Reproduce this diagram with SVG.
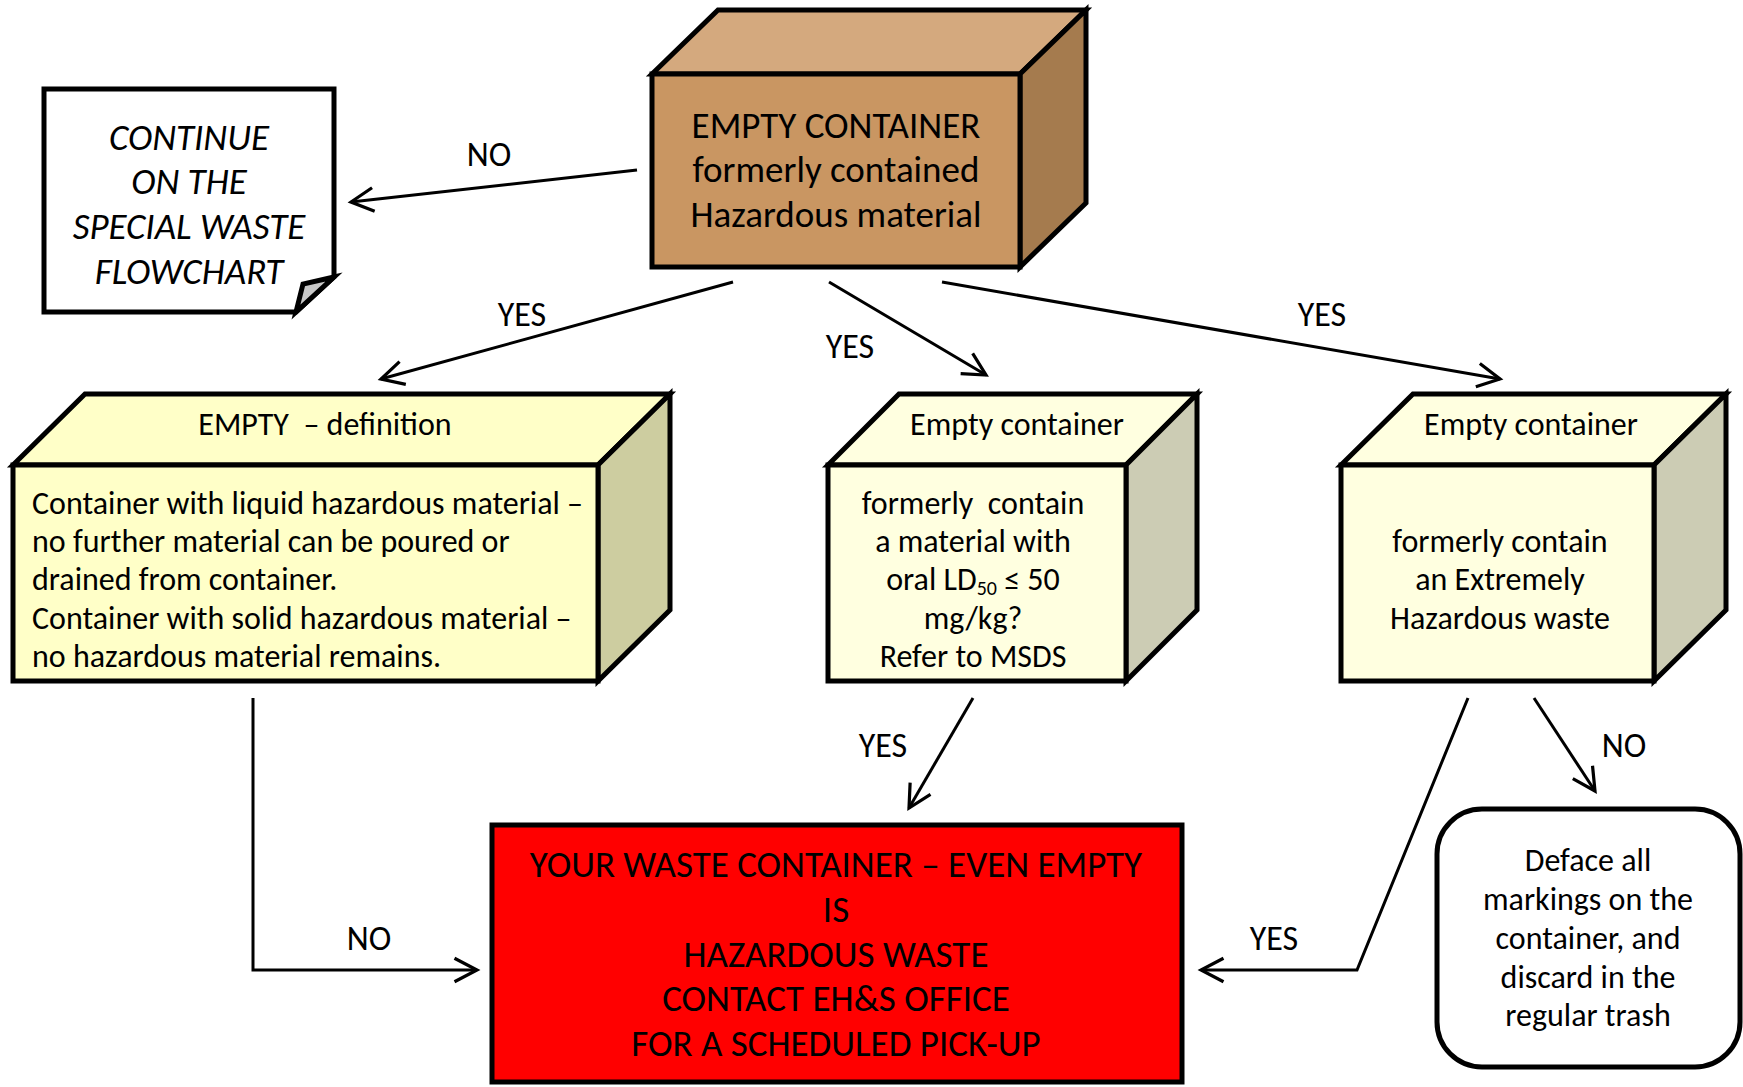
<svg xmlns="http://www.w3.org/2000/svg" width="1743" height="1087" viewBox="0 0 1743 1087">
<defs>
<style>
text{font-family:Carlito,Lato,"Liberation Sans",sans-serif;fill:#000}
.big{font-size:37px;text-anchor:middle}
.mid{font-size:32px;text-anchor:middle}
.body{font-size:32px}
.lbl{font-size:34px;text-anchor:middle}
.it{font-style:italic}
.box{stroke:#000;stroke-width:5;stroke-linejoin:miter}
.con{fill:none;stroke:#000;stroke-width:3;marker-end:url(#arr)}
</style>
<marker id="arr" markerUnits="userSpaceOnUse" markerWidth="30" markerHeight="30" viewBox="-24 -14 28 28" refX="0" refY="0" orient="auto">
<path d="M-21,-11 L0,0 L-21,11" fill="none" stroke="#000" stroke-width="3"/>
</marker>
</defs>
<rect width="1743" height="1087" fill="#fff"/>

<g id="connectors">
<path class="con" d="M637,170 L351,202"/>
<path class="con" d="M733,282 L381,379"/>
<path class="con" d="M829,282 L986,375"/>
<path class="con" d="M942,282 L1500,379"/>
<path class="con" d="M253,698 L253,970 L477,970"/>
<path class="con" d="M973,698 L909,808"/>
<path class="con" d="M1468,698 L1357,970 L1201,970"/>
<path class="con" d="M1534,698 L1595,791"/>
<text class="lbl" x="489" y="166">NO</text>
<text class="lbl" x="522" y="326">YES</text>
<text class="lbl" x="850" y="358">YES</text>
<text class="lbl" x="1322" y="326">YES</text>
<text class="lbl" x="883" y="757">YES</text>
<text class="lbl" x="1624" y="757">NO</text>
<text class="lbl" x="369" y="950">NO</text>
<text class="lbl" x="1274" y="950">YES</text>
</g>

<g id="start">
<polygon class="box" points="652,74 718,10 1086,10 1020,74" fill="#D4A97E"/>
<polygon class="box" points="1020,74 1086,10 1086,203 1020,267" fill="#A57B4E"/>
<rect class="box" x="652" y="74" width="368" height="193" fill="#C99662"/>
<text class="big" x="836" y="138">EMPTY CONTAINER</text>
<text class="big" x="836" y="182">formerly contained</text>
<text class="big" x="836" y="227">Hazardous material</text>
</g>

<g id="continue">
<path class="box" d="M44,89 H334 V277 L296,312 H44 Z" fill="#fff"/>
<path class="box" d="M334,277 L303,284 L296,312 Z" fill="#C8C8C8" stroke-width="4"/>
<text class="big it" x="189" y="150">CONTINUE</text>
<text class="big it" x="189" y="194">ON THE</text>
<text class="big it" x="189" y="239">SPECIAL WASTE</text>
<text class="big it" x="189" y="284">FLOWCHART</text>
</g>

<g id="definition">
<polygon class="box" points="13,465 85,394 670,394 598,465" fill="#FFFFC8"/>
<polygon class="box" points="598,465 670,394 670,610 598,681" fill="#CDCDA0"/>
<rect class="box" x="13" y="465" width="585" height="216" fill="#FFFFC8"/>
<text class="mid" x="325" y="435" xml:space="preserve">EMPTY  – definition</text>
<text class="body" x="32" y="514">Container with liquid hazardous material –</text>
<text class="body" x="32" y="552">no further material can be poured or</text>
<text class="body" x="32" y="590">drained from container.</text>
<text class="body" x="32" y="629">Container with solid hazardous material –</text>
<text class="body" x="32" y="667">no hazardous material remains.</text>
</g>

<g id="ld50">
<polygon class="box" points="828,465 899,394 1197,394 1126,465" fill="#FFFFE0"/>
<polygon class="box" points="1126,465 1197,394 1197,610 1126,681" fill="#CCCCB4"/>
<rect class="box" x="828" y="465" width="298" height="216" fill="#FFFFE0"/>
<text class="mid" x="1017" y="435">Empty container</text>
<text class="mid" x="973" y="514" xml:space="preserve">formerly  contain</text>
<text class="mid" x="973" y="552">a material with</text>
<text class="mid" x="973" y="590">oral LD<tspan font-size="20" dy="5">50</tspan><tspan dy="-5"> ≤ 50</tspan></text>
<text class="mid" x="973" y="629">mg/kg?</text>
<text class="mid" x="973" y="667">Refer to MSDS</text>
</g>

<g id="extreme">
<polygon class="box" points="1341,465 1413,394 1726,394 1654,465" fill="#FFFFE0"/>
<polygon class="box" points="1654,465 1726,394 1726,610 1654,681" fill="#CCCCB4"/>
<rect class="box" x="1341" y="465" width="313" height="216" fill="#FFFFE0"/>
<text class="mid" x="1531" y="435">Empty container</text>
<text class="mid" x="1500" y="552">formerly contain</text>
<text class="mid" x="1500" y="590">an Extremely</text>
<text class="mid" x="1500" y="629">Hazardous waste</text>
</g>

<g id="hazardous">
<rect class="box" x="492" y="825" width="690" height="257" fill="#FF0000"/>
<text class="big" x="836" y="877">YOUR WASTE CONTAINER – EVEN EMPTY</text>
<text class="big" x="836" y="922">IS</text>
<text class="big" x="836" y="967">HAZARDOUS WASTE</text>
<text class="big" x="836" y="1011">CONTACT EH&amp;S OFFICE</text>
<text class="big" x="836" y="1056">FOR A SCHEDULED PICK-UP</text>
</g>

<g id="deface">
<rect class="box" x="1437" y="809" width="303" height="258" rx="45" fill="#fff"/>
<text class="mid" x="1588" y="871">Deface all</text>
<text class="mid" x="1588" y="910">markings on the</text>
<text class="mid" x="1588" y="949">container, and</text>
<text class="mid" x="1588" y="988">discard in the</text>
<text class="mid" x="1588" y="1026">regular trash</text>
</g>
</svg>
